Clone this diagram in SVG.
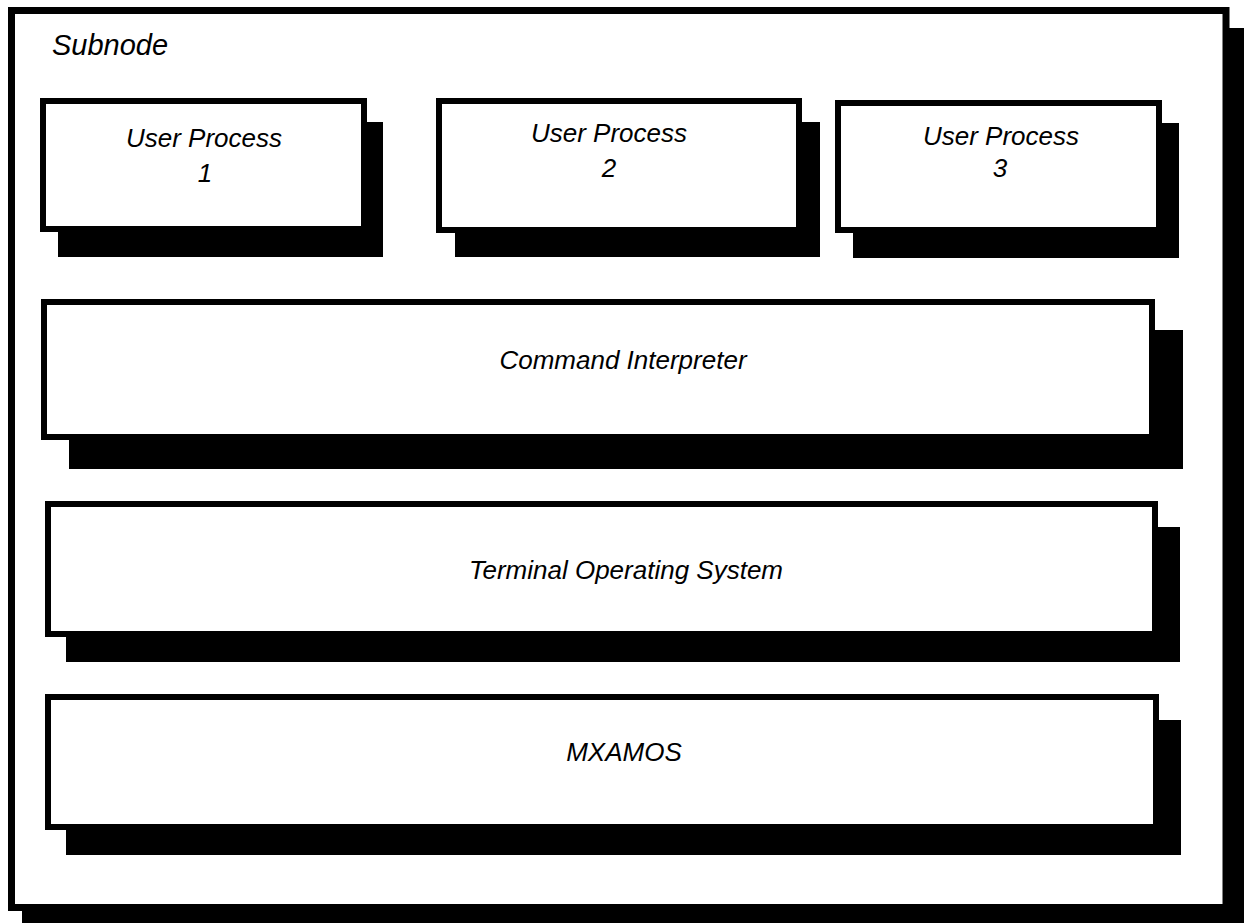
<svg xmlns="http://www.w3.org/2000/svg" width="1244" height="923" viewBox="0 0 1244 923">
  <style>
    .shadow { fill: #000; }
    .box { fill: #fff; stroke: #000; stroke-width: 6; }
    .frame { fill: #fff; stroke: #000; stroke-width: 7; }
    .label { font-family: "Liberation Sans", Arial, sans-serif; font-style: italic; font-size: 26px; fill: #000; text-anchor: middle; }
    .title { font-family: "Liberation Sans", Arial, sans-serif; font-style: italic; font-size: 29px; fill: #000; }
  </style>
  <rect width="1244" height="923" fill="#fff"/>

  <!-- Subnode container -->
  <g id="subnode">
    <rect class="shadow" x="22" y="28" width="1222" height="895"/>
    <rect class="frame" x="11.5" y="10.5" width="1214.5" height="897"/>
    <text class="title" x="52" y="55">Subnode</text>
  </g>

  <g id="user-process-1">
    <rect class="shadow" x="58" y="122" width="325" height="135"/>
    <rect class="box" x="43" y="101" width="321" height="128"/>
    <text class="label" x="204" y="147">User Process</text>
    <text class="label" x="205" y="182">1</text>
  </g>

  <g id="user-process-2">
    <rect class="shadow" x="455" y="122" width="365" height="135"/>
    <rect class="box" x="439" y="101" width="360" height="129"/>
    <text class="label" x="609" y="142">User Process</text>
    <text class="label" x="609" y="177">2</text>
  </g>

  <g id="user-process-3">
    <rect class="shadow" x="853" y="123" width="326" height="135"/>
    <rect class="box" x="838" y="103" width="321" height="127"/>
    <text class="label" x="1001" y="145">User Process</text>
    <text class="label" x="1000" y="177">3</text>
  </g>

  <g id="command-interpreter">
    <rect class="shadow" x="69" y="330" width="1114" height="139"/>
    <rect class="box" x="44" y="302" width="1108" height="135"/>
    <text class="label" x="623" y="369">Command Interpreter</text>
  </g>

  <g id="terminal-operating-system">
    <rect class="shadow" x="66" y="527" width="1114" height="135"/>
    <rect class="box" x="48" y="504" width="1107" height="130"/>
    <text class="label" x="626" y="579">Terminal Operating System</text>
  </g>

  <g id="mxamos">
    <rect class="shadow" x="66" y="720" width="1115" height="135"/>
    <rect class="box" x="48" y="697" width="1108" height="130"/>
    <text class="label" x="624" y="761">MXAMOS</text>
  </g>

  <g id="connectors"/>
</svg>
